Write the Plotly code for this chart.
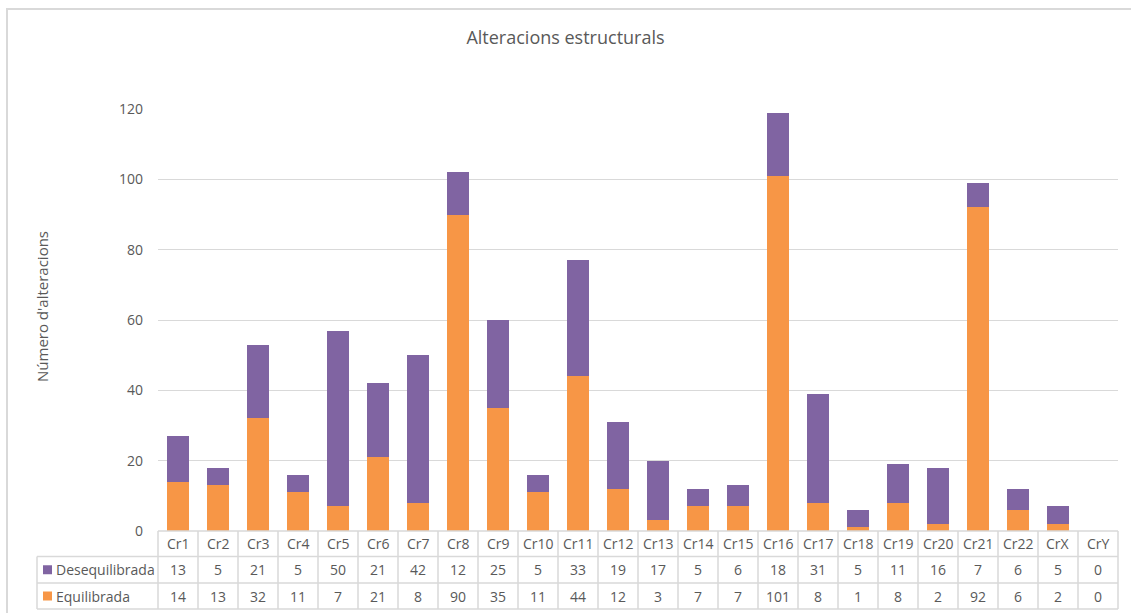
import plotly.graph_objects as go

# Chromosome categories and counts of structural alterations
chromosomes = ["Cr1", "Cr2", "Cr3", "Cr4", "Cr5", "Cr6", "Cr7", "Cr8", "Cr9", "Cr10",
               "Cr11", "Cr12", "Cr13", "Cr14", "Cr15", "Cr16", "Cr17", "Cr18", "Cr19",
               "Cr20", "Cr21", "Cr22", "CrX", "CrY"]
equilibrada = [14, 13, 32, 11, 7, 21, 8, 90, 35, 11, 44, 12, 3, 7, 7, 101, 8, 1, 8, 2, 92, 6, 2, 0]
desequilibrada = [13, 5, 21, 5, 50, 21, 42, 12, 25, 5, 33, 19, 17, 5, 6, 18, 31, 5, 11, 16, 7, 6, 5, 0]
y_ticks = [0, 20, 40, 60, 80, 100, 120]

ORANGE = "#F79646"
PURPLE = "#8064A2"
GRID = "#D9D9D9"
TEXT = "#595959"
FONT = "Open Sans"

W, H = 1131, 613
L, R, T, B = 158, 1118, 109, 531  # plot area in pixels


def px_x(px):
    return (px - L) / (R - L)


def px_y(py):
    return (B - py) / (B - T)


fig = go.Figure()
fig.add_trace(go.Bar(x=chromosomes, y=equilibrada, name="Equilibrada",
                     marker=dict(color=ORANGE, line=dict(width=0))))
fig.add_trace(go.Bar(x=chromosomes, y=desequilibrada, name="Desequilibrada",
                     marker=dict(color=PURPLE, line=dict(width=0))))

shapes = []
annotations = []

# outer chart border
shapes.append(dict(type="rect", xref="paper", yref="paper",
                   x0=px_x(7), x1=px_x(1140), y0=px_y(620), y1=px_y(9),
                   line=dict(color=GRID, width=2), layer="below"))

# data table grid
row_lines = [B, 556.5, 583, 609]
shapes.append(dict(type="line", xref="paper", yref="paper",
                   x0=0, x1=1, y0=px_y(B), y1=px_y(B), line=dict(color=GRID, width=1.5)))
for py in row_lines[1:]:
    shapes.append(dict(type="line", xref="paper", yref="paper",
                       x0=px_x(37), x1=1, y0=px_y(py), y1=px_y(py),
                       line=dict(color=GRID, width=1.5)))
shapes.append(dict(type="line", xref="paper", yref="paper",
                   x0=px_x(37), x1=px_x(37), y0=px_y(556.5), y1=px_y(609),
                   line=dict(color=GRID, width=1.5)))
n = len(chromosomes)
for i in range(n + 1):
    xp = i / n
    shapes.append(dict(type="line", xref="paper", yref="paper",
                       x0=xp, x1=xp, y0=px_y(B), y1=px_y(609),
                       line=dict(color=GRID, width=1.5)))

row_centers = [(B + 556.5) / 2, (556.5 + 583) / 2, (583 + 609) / 2]
for c, d, e in zip(chromosomes, desequilibrada, equilibrada):
    for txt, yc in ((c, row_centers[0]), (str(d), row_centers[1]), (str(e), row_centers[2])):
        annotations.append(dict(x=c, xref="x", y=px_y(yc), yref="paper", text=txt,
                                showarrow=False, xanchor="center", yanchor="middle",
                                font=dict(family=FONT, size=14, color=TEXT)))

# series keys in the table
for label, color, yc in (("Desequilibrada", PURPLE, row_centers[1]),
                         ("Equilibrada", ORANGE, row_centers[2])):
    shapes.append(dict(type="rect", xref="paper", yref="paper",
                       x0=px_x(43), x1=px_x(52), y0=px_y(yc + 4.5), y1=px_y(yc - 4.5),
                       fillcolor=color, line=dict(width=0)))
    annotations.append(dict(x=px_x(54), xref="paper", y=px_y(yc), yref="paper", text=label,
                            showarrow=False, xanchor="left", yanchor="middle",
                            font=dict(family=FONT, size=14, color=TEXT)))

# y-axis title
annotations.append(dict(x=px_x(42), xref="paper", y=px_y(307), yref="paper",
                        text="Número d'alteracions", textangle=-90, showarrow=False,
                        xanchor="center", yanchor="middle",
                        font=dict(family=FONT, size=15, color=TEXT)))

fig.update_layout(
    width=W, height=H,
    margin=dict(l=L, r=W - R, t=T, b=H - B, pad=0),
    paper_bgcolor="white", plot_bgcolor="white",
    barmode="stack", bargap=0.46,
    showlegend=False,
    title=dict(text="Alteracions estructurals", x=0.5, xanchor="center",
               y=1 - 38 / H, yanchor="middle",
               font=dict(family=FONT, size=18, color=TEXT)),
    xaxis=dict(categoryorder="array", categoryarray=chromosomes,
               showticklabels=False, showgrid=False, zeroline=False,
               showline=False, ticks="", range=[-0.5, n - 0.5]),
    yaxis=dict(range=[0, 120], tickvals=y_ticks, showgrid=True, gridcolor=GRID,
               gridwidth=1.2, zeroline=False, showline=False, ticks="",
               ticklabelstandoff=14,
               tickfont=dict(family=FONT, size=14, color=TEXT)),
    shapes=shapes,
    annotations=annotations,
)

fig.write_html("out.html")
